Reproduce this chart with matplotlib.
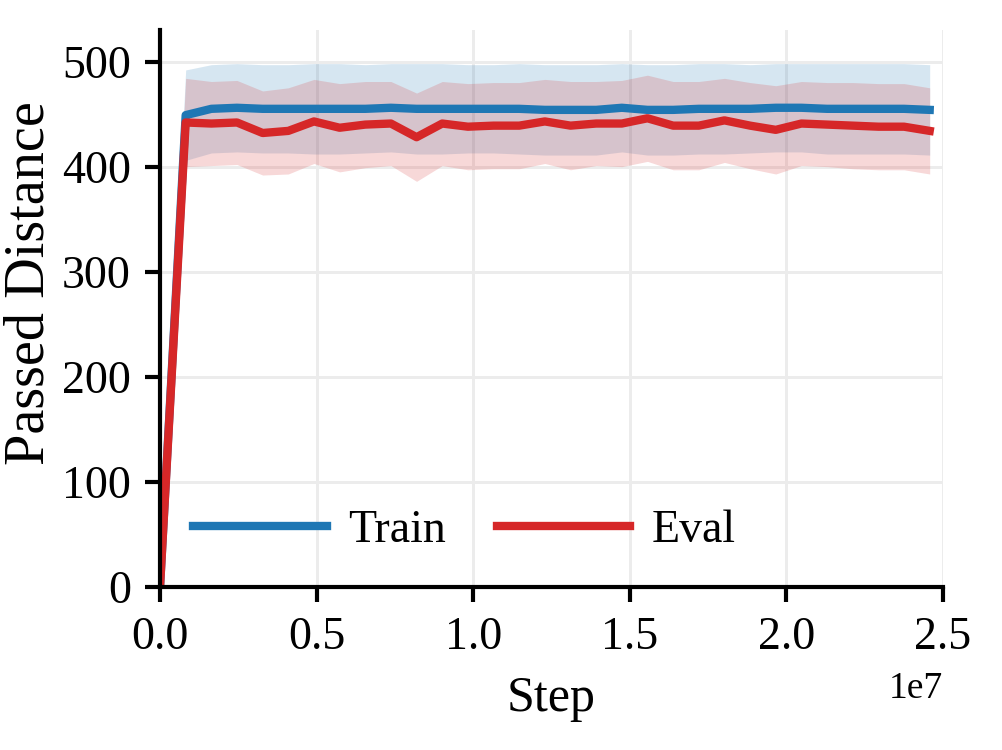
import numpy as np
import matplotlib as mpl
import matplotlib.pyplot as plt

mpl.rcParams['font.family'] = 'serif'
mpl.rcParams['font.serif'] = ['Liberation Serif', 'DejaVu Serif']
mpl.rcParams['font.size'] = 11
mpl.rcParams['axes.linewidth'] = 1.0

steps = np.arange(31) * 819200

train_mean = [0, 449, 455, 456, 455, 455, 455, 455, 455, 456, 455, 455, 455, 455, 455, 454,
              454, 454, 456, 454, 454, 455, 455, 455, 456, 456, 455, 455, 455, 455, 454]
train_std = [0, 43, 42, 42, 42, 42, 43, 43, 42, 42, 43, 43, 42, 42, 43, 43,
             43, 43, 42, 43, 43, 43, 43, 42, 42, 42, 43, 43, 43, 43, 43]

eval_mean = [0, 442, 441, 442, 432, 434, 443, 437, 440, 441, 428, 441, 438, 439, 439, 443,
             439, 441, 441, 446, 439, 439, 444, 439, 435, 441, 440, 439, 438, 438, 434]
eval_std = [0, 42, 40, 40, 40, 41, 40, 42, 41, 40, 42, 40, 41, 41, 41, 40,
            42, 40, 41, 41, 42, 42, 40, 41, 42, 40, 40, 41, 41, 41, 41]

train_mean = np.array(train_mean, dtype=float)
train_std = np.array(train_std, dtype=float)
eval_mean = np.array(eval_mean, dtype=float)
eval_std = np.array(eval_std, dtype=float)

fig = plt.figure(figsize=(3.34, 2.5), dpi=300)
ax = fig.add_axes([0.1597, 0.2173, 0.9411 - 0.1597, 0.96 - 0.2173])

ax.plot(steps, train_mean, color='tab:blue', lw=2, label='Train')
ax.fill_between(steps, train_mean - train_std, train_mean + train_std,
                color='tab:blue', alpha=0.18, lw=0)
ax.plot(steps, eval_mean, color='tab:red', lw=2, label='Eval')
ax.fill_between(steps, eval_mean - eval_std, eval_mean + eval_std,
                color='tab:red', alpha=0.18, lw=0)

ax.set_xlim(0, 2.5e7)
ax.set_ylim(0, 530)
ax.set_yticks([0, 100, 200, 300, 400, 500])
ax.set_xticks([0, 0.5e7, 1.0e7, 1.5e7, 2.0e7, 2.5e7])
ax.grid(True, color='#ececec', lw=0.7)
ax.set_axisbelow(True)
ax.spines['top'].set_visible(False)
ax.spines['right'].set_visible(False)
ax.tick_params(labelsize=11, width=1.0, length=3.5)
ax.xaxis.get_offset_text().set_fontsize(9)

ax.set_xlabel('Step', fontsize=12)
ax.set_ylabel('Passed Distance', fontsize=13.5)
ax.yaxis.set_label_coords(-0.133, 0.545)

ax.legend(loc='center left', bbox_to_anchor=(-0.01, 0.101), ncol=2, frameon=False,
          handlelength=2.92, handletextpad=0.46, fontsize=11, columnspacing=1.1)

fig.savefig('out.png', dpi=300)
